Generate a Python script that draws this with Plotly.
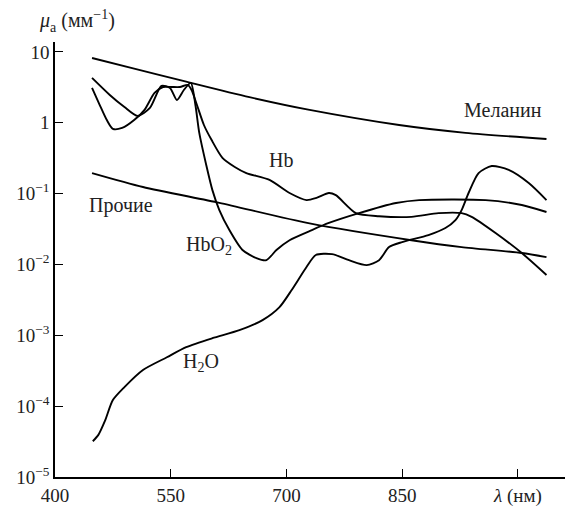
import plotly.graph_objects as go
import math

# Wavelengths (nm) and absorption coefficients (mm^-1)
mel_x = [448, 500, 570, 652, 730, 846, 932, 1037]
mel_y = [8.2, 5.9, 3.8, 2.3, 1.52, 0.93, 0.72, 0.59]

oth_x = [448, 514, 613, 730, 862, 927, 1005, 1037]
oth_y = [0.195, 0.124, 0.074, 0.038, 0.022, 0.0176, 0.0145, 0.0127]

hbo2_x = [448, 471, 490, 507, 523, 538, 549, 558, 567, 576, 582, 587, 596, 604, 613,
          626, 643, 661, 674, 687, 704, 733, 755, 794, 842, 872, 958, 1005, 1037]
hbo2_y = [4.3, 2.47, 1.67, 1.25, 1.62, 3.31, 3.1, 2.1, 2.9, 3.65, 1.78, 0.72, 0.254, 0.112, 0.0586,
          0.0306, 0.016, 0.0123, 0.0115, 0.016, 0.022, 0.0306, 0.0385, 0.053, 0.0736, 0.081, 0.081, 0.069, 0.055]

hb_x = [448, 458, 467, 475, 487, 503, 516, 529, 540, 551, 562, 572, 577, 584, 593, 603,
        617, 633, 648, 678, 704, 726, 739, 755, 764, 790, 820, 862, 897, 927, 940, 971, 1005, 1037]
hb_y = [3.1, 1.78, 1.1, 0.82, 0.845, 1.1, 1.52, 2.64, 3.2, 3.2, 3.2, 3.42, 2.9, 1.78, 0.93, 0.57,
        0.32, 0.238, 0.195, 0.156, 0.102, 0.081, 0.087, 0.102, 0.095, 0.053, 0.048, 0.047, 0.053, 0.053, 0.047, 0.0278, 0.0145, 0.0071]

h2o_x = [449, 456, 465, 475, 490, 514, 545, 570, 604, 639, 669, 691, 707, 726, 738, 759, 781,
         804, 820, 833, 850, 884, 906, 919, 927, 936, 949, 966, 988, 1014, 1037]
h2o_y = [3.2e-5, 3.9e-5, 6.3e-5, 1.22e-4, 1.86e-4, 3.24e-4, 4.9e-4, 6.8e-4, 9.1e-4, 1.18e-3, 1.64e-3, 2.5e-3,
         4.4e-3, 9.2e-3, 0.0136, 0.014, 0.0115, 0.0098, 0.0115, 0.0176, 0.0207, 0.026, 0.0327, 0.0423,
         0.0586, 0.102, 0.195, 0.245, 0.216, 0.141, 0.081]

x_ticks = [400, 550, 700, 850, 1000]
x_ticktext = ["400", "550", "700", "850", "<i>λ</i> (нм)"]
y_ticks = [1e-5, 1e-4, 1e-3, 1e-2, 1e-1, 1, 10]
y_ticktext = ["10<sup>−5</sup>", "10<sup>−4</sup>", "10<sup>−3</sup>", "10<sup>−2</sup>",
              "10<sup>−1</sup>", "1", "10"]

labels = [
    ("Меланин", 981, 1.52),
    ("Hb", 693, 0.30),
    ("Прочие", 485, 0.067),
    ("HbO<sub>2</sub>", 599, 0.0188),
    ("H<sub>2</sub>O", 589, 4.2e-4),
]

FONT = "'Liberation Serif', 'Times New Roman', 'DejaVu Serif', serif"
FS = 19
FL = 20
fig = go.Figure()
for xs, ys in [(mel_x, mel_y), (oth_x, oth_y), (hbo2_x, hbo2_y), (hb_x, hb_y), (h2o_x, h2o_y)]:
    fig.add_trace(go.Scatter(x=xs, y=ys, mode="lines",
                             line=dict(color="black", width=1.9, shape="spline", smoothing=0.7),
                             showlegend=False, hoverinfo="skip"))

for txt, lx, ly in labels:
    fig.add_annotation(x=lx, y=math.log10(ly), text=txt, showarrow=False,
                       font=dict(family=FONT, size=FL, color="#222"))

fig.add_annotation(xref="paper", yref="paper", x=-0.035, y=1.048, xanchor="left", yanchor="middle",
                   text="<i>μ</i><sub>a</sub> (мм<sup>−1</sup>)", showarrow=False,
                   font=dict(family=FONT, size=FL, color="#222"))

fig.update_layout(
    width=565, height=506,
    margin=dict(l=55, r=0, t=42, b=29),
    plot_bgcolor="white", paper_bgcolor="white",
    font=dict(family=FONT, size=FS, color="#222"),
    xaxis=dict(range=[400, 1061], tickvals=x_ticks, ticktext=x_ticktext,
               ticks="inside", ticklen=8, tickcolor="black", tickwidth=1.3,
               showline=True, linecolor="black", linewidth=1.5, showgrid=False, zeroline=False,
               tickfont=dict(family=FONT, size=FS, color="#222")),
    yaxis=dict(type="log", range=[-5, 1.14], tickvals=y_ticks, ticktext=y_ticktext,
               ticks="inside", ticklen=8, tickcolor="black", tickwidth=1.3,
               showline=True, linecolor="black", linewidth=1.5, showgrid=False, zeroline=False,
               tickfont=dict(family=FONT, size=FS, color="#222")),
)

fig.write_html("out.html")
